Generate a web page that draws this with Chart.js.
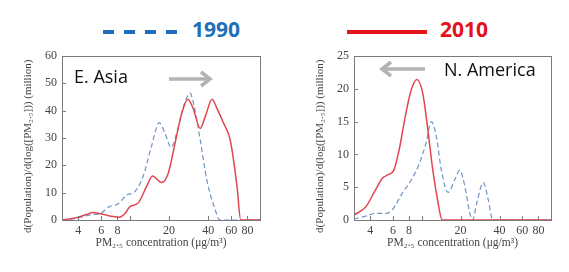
<!DOCTYPE html>
<html><head><meta charset="utf-8">
<script src="https://cdn.jsdelivr.net/npm/chart.js@4/dist/chart.umd.min.js"></script>
<style>
html,body{margin:0;padding:0;background:#fff;}
#wrap{position:relative;width:569px;height:272px;overflow:hidden;background:#fff;}
canvas{position:absolute;}
.lab{position:absolute;font-family:"Open Sans",sans-serif;white-space:nowrap;line-height:1;}
svg{position:absolute;left:0;top:0;}
</style></head>
<body>
<div id="wrap">
  <svg width="569" height="272">
    <line x1="103" y1="32" x2="178" y2="32" stroke="#1f6fb8" stroke-width="4" stroke-dasharray="11 10"/>
    <line x1="347" y1="32" x2="427" y2="32" stroke="#e3131b" stroke-width="4"/>
  </svg>
  <div class="lab" id="l1990" style="left:192px;top:19px;font-size:21px;font-weight:700;color:#1f6fb8;">1990</div>
  <div class="lab" id="l2010" style="left:440px;top:19px;font-size:21px;font-weight:700;color:#e3131b;">2010</div>
  <canvas id="c1" width="285" height="232" style="left:0;top:40px;"></canvas>
  <canvas id="c2" width="284" height="232" style="left:285px;top:40px;"></canvas>
  <div class="lab" style="left:74px;top:67px;font-size:18px;color:#111;">E. Asia</div>
  <div class="lab" style="left:444px;top:60px;font-size:18px;color:#111;">N. America</div>
  <svg width="569" height="272" style="pointer-events:none">
    <line x1="169" y1="79" x2="208" y2="79" stroke="#b3b3b3" stroke-width="3.5"/>
    <polyline points="201,72 210,79 201,86" fill="none" stroke="#b3b3b3" stroke-width="3.5"/>
    <line x1="384" y1="69" x2="425" y2="69" stroke="#b3b3b3" stroke-width="3.5"/>
    <polyline points="391,62 382,69 391,76" fill="none" stroke="#b3b3b3" stroke-width="3.5"/>
  </svg>
</div>
<script>
// ---- data ----
const xTickValues = [4, 6, 8, 10, 20, 40, 60, 80];
const xTickLabels = ['4', '6', '8', '', '20', '40', '60', '80'];
const seriesNames = ['1990', '2010'];

const eAsia1990X = [3, 3.5, 4, 4.5, 5.2, 5.8, 6.95, 8.07, 9.4, 10.9, 12.6, 14.6, 16.8, 18.6, 20.7, 23.5, 25.8, 29, 30.8, 34.7, 39, 45.3, 49, 60, 100];
const eAsia1990Y = [0, 0.3, 0.8, 1.4, 2.0, 2.2, 4.9, 5.85, 9.1, 10.4, 15.9, 26.8, 35.6, 31.7, 26.6, 34, 41.5, 46.4, 42.7, 29.3, 14.6, 3.7, 0, 0, 0];
const eAsia2010X = [3, 4, 4.6, 5.2, 6, 7, 8.3, 9.2, 10, 11.5, 13.4, 14.9, 17.5, 19.7, 22.2, 25, 27.9, 30.5, 34.7, 38, 42.8, 47, 52.5, 59, 66.6, 71, 100];
const eAsia2010Y = [0, 1, 2, 2.7, 2.2, 1.5, 1.0, 2.5, 4.9, 6.1, 12.2, 16.1, 13.7, 17.1, 28, 39, 44.2, 41, 33.5, 38, 44.2, 40.5, 35.4, 29.3, 12.2, 0, 0];

const nAm1990X = [3, 3.7, 4.4, 5.3, 5.9, 7.1, 8.3, 9.6, 10.8, 11.9, 13, 14.2, 16, 18, 19.7, 21.6, 23.6, 24.8, 26.6, 30, 32.8, 35.5, 50, 100];
const nAm1990Y = [0.15, 0.6, 1.0, 1.0, 1.5, 4.1, 6.1, 8.6, 11.7, 15.0, 12.7, 7.6, 4.2, 6.1, 7.6, 5.1, 1.0, 0, 2.5, 5.7, 3.0, 0, 0, 0];
const nAm2010X = [3, 3.7, 4.4, 4.97, 5.5, 6.1, 6.7, 7.56, 8.3, 9.2, 10.2, 11.1, 12.2, 13.3, 14.4, 20, 100];
const nAm2010Y = [0.76, 2.0, 4.6, 6.35, 6.9, 7.6, 10.7, 16.3, 19.8, 21.4, 19.3, 14.2, 7.6, 3.0, 0, 0, 0];

const yTitle = 'd(Population)/d(log([PM\u2082.\u2085])) (million)\u00a0\u00a0\u00a0\u00a0\u00a0\u00a0';
const xTitle = 'PM\u2082.\u2085 concentration (\u03bcg/m\u00b3)';

const pts = (xs, ys) => xs.map((x, i) => ({x: x, y: ys[i]}));

const framePlugin = {
  id: 'frame',
  afterDatasetsDraw(chart) {
    const {ctx, chartArea: a, scales} = chart;
    ctx.save();
    ctx.strokeStyle = '#7a7a7a';
    ctx.lineWidth = 1;
    ctx.strokeRect(Math.round(a.left) + 0.5, Math.round(a.top) + 0.5, Math.round(a.right - a.left), Math.round(a.bottom - a.top));
    ctx.beginPath();
    xTickValues.forEach(v => {
      const px = Math.round(scales.x.getPixelForValue(v)) + 0.5;
      ctx.moveTo(px, a.bottom); ctx.lineTo(px, a.bottom - 4);
    });
    scales.y.ticks.forEach(t => {
      const py = Math.round(scales.y.getPixelForValue(t.value)) + 0.5;
      ctx.moveTo(a.left, py); ctx.lineTo(a.left + 4, py);
    });
    ctx.stroke();
    ctx.restore();
  }
};

function makeChart(id, d1990, d2010, yMax, yStep, yWidth, padRight, titlePad) {
  const tickFont = {family: '"Liberation Serif", "Times New Roman", serif', size: 12};
  const titleFont = {family: '"Liberation Serif", "Times New Roman", serif', size: 11};
  const xTitleFont = {family: '"Liberation Serif", "Times New Roman", serif', size: 11.5};
  return new Chart(document.getElementById(id), {
    type: 'line',
    data: {
      datasets: [
        {label: seriesNames[1], data: d2010, borderColor: '#e0454f', borderWidth: 1.5, pointRadius: 0,
         cubicInterpolationMode: 'monotone', fill: false},
        {label: seriesNames[0], data: d1990, borderColor: '#6f94c6', borderWidth: 1.2, borderDash: [5, 3], pointRadius: 0,
         cubicInterpolationMode: 'monotone', fill: false}
      ]
    },
    options: {
      responsive: false,
      animation: false,
      devicePixelRatio: 1,
      layout: {padding: {top: 16, right: padRight, left: 0, bottom: 0}},
      plugins: {legend: {display: false}, tooltip: {enabled: false}},
      scales: {
        x: {
          type: 'logarithmic', min: 3, max: 100,
          afterBuildTicks: s => { s.ticks = xTickValues.map(v => ({value: v})); },
          afterFit: s => { s.height = 52; },
          grid: {display: false, drawTicks: false},
          border: {display: false},
          ticks: {font: tickFont, color: '#444', padding: 4, maxRotation: 0, autoSkip: false,
                  callback: (v, i) => xTickLabels[i]},
          title: {display: true, text: xTitle, font: xTitleFont, color: '#444', padding: {top: 0, bottom: 22}}
        },
        y: {
          min: 0, max: yMax,
          afterFit: s => { s.width = yWidth; },
          grid: {display: false, drawTicks: false},
          border: {display: false},
          ticks: {stepSize: yStep, font: tickFont, color: '#444', padding: 5},
          title: {display: true, text: yTitle, font: titleFont, color: '#444', padding: {top: titlePad, bottom: 0}}
        }
      }
    },
    plugins: [framePlugin]
  });
}

makeChart('c1', pts(eAsia1990X, eAsia1990Y), pts(eAsia2010X, eAsia2010Y), 60, 10, 62, 25, 22);
makeChart('c2', pts(nAm1990X, nAm1990Y), pts(nAm2010X, nAm2010Y), 25, 5, 69, 18, 29);
</script>
</body></html>
